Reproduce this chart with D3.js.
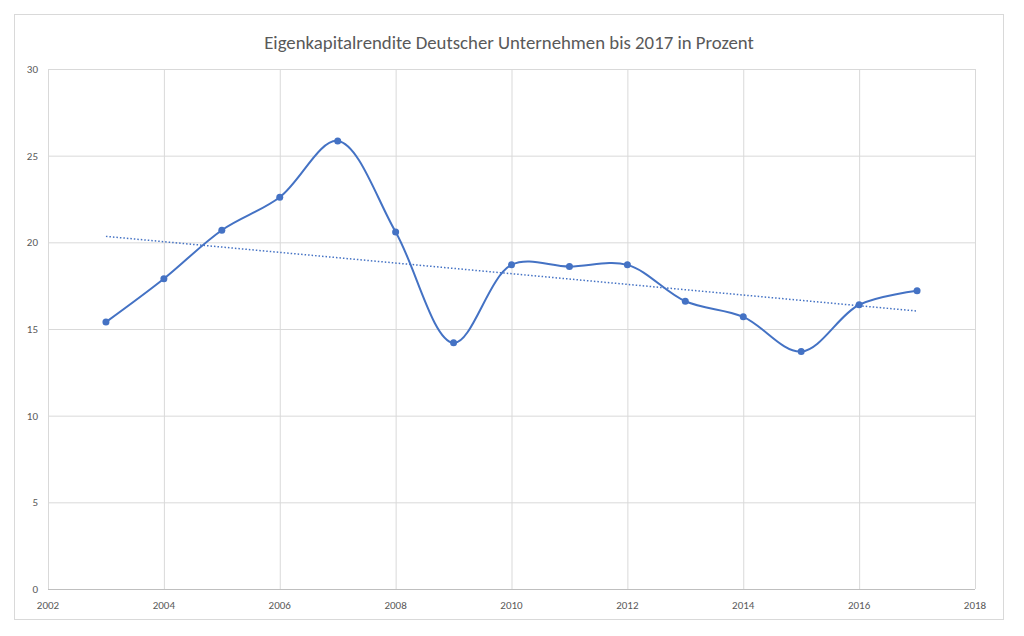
<!DOCTYPE html>
<html><head><meta charset="utf-8">
<script src="https://cdn.jsdelivr.net/npm/d3@7"></script>
<style>body{margin:0;background:#fff}svg{font-family:Calibri,Carlito,"Open Sans",sans-serif}</style>
</head><body><svg id="c" width="1024" height="636"></svg>
<script>
const title = "Eigenkapitalrendite Deutscher Unternehmen bis 2017 in Prozent";
const years = [2003,2004,2005,2006,2007,2008,2009,2010,2011,2012,2013,2014,2015,2016,2017];
const values = [15.4,17.9,20.7,22.6,25.85,20.6,14.2,18.7,18.6,18.7,16.6,15.7,13.7,16.4,17.2];
const xTicks = [2002,2004,2006,2008,2010,2012,2014,2016,2018];
const yTicks = [0,5,10,15,20,25,30];

const svg = d3.select("#c");
const color = "#4472C4";
svg.append("rect").attr("x",14.5).attr("y",14.5).attr("width",989).attr("height",605)
  .attr("fill","#fff").attr("stroke","#d9d9d9");
svg.append("text").attr("x",509).attr("y",49).attr("text-anchor","middle")
  .attr("font-size",18.8).attr("fill","#595959").text(title);

const x = d3.scaleLinear().domain([2002,2018]).range([48,975]);
const y = d3.scaleLinear().domain([0,30]).range([589,69]);

const g = svg.append("g");
yTicks.forEach(t=>{
  g.append("line").attr("x1",x(2002)).attr("x2",x(2018)).attr("y1",y(t)+.5).attr("y2",y(t)+.5)
   .attr("stroke",t===0?"#bfbfbf":"#d9d9d9");
  g.append("text").attr("x",38).attr("y",y(t)+4).attr("text-anchor","end")
   .attr("font-size",11).attr("fill","#595959").text(t);
});
xTicks.forEach(t=>{
  g.append("line").attr("x1",x(t)+.5).attr("x2",x(t)+.5).attr("y1",y(0)).attr("y2",y(30))
   .attr("stroke","#d9d9d9");
  g.append("text").attr("x",x(t)).attr("y",y(0)+20).attr("text-anchor","middle")
   .attr("font-size",11).attr("fill","#595959").text(t);
});

const pts = years.map((yr,i)=>[yr,values[i]]);
svg.append("path").datum(pts).attr("fill","none").attr("stroke",color).attr("stroke-width",2)
  .attr("d",d3.line().x(d=>x(d[0])).y(d=>y(d[1])).curve(d3.curveCatmullRom.alpha(0.5)));

const mx=d3.mean(years), my=d3.mean(values);
const b=d3.sum(years.map((v,i)=>(v-mx)*(values[i]-my)))/d3.sum(years.map(v=>(v-mx)**2));
const a=my-b*mx;
svg.append("line").attr("x1",x(2003)).attr("y1",y(a+b*2003)).attr("x2",x(2017)).attr("y2",y(a+b*2017))
  .attr("stroke",color).attr("stroke-width",1.5).attr("stroke-dasharray","1.5,2");

svg.selectAll("circle").data(pts).join("circle").attr("cx",d=>x(d[0])).attr("cy",d=>y(d[1]))
  .attr("r",3.5).attr("fill",color);
</script></body></html>
